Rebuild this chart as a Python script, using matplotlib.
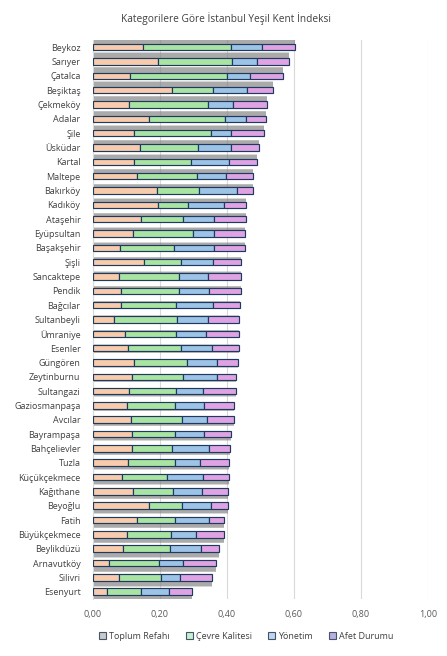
import numpy as np
import matplotlib
matplotlib.use('Agg')
import matplotlib.pyplot as plt
from matplotlib.patches import Patch
from matplotlib.ticker import FuncFormatter

plt.rcParams['font.family'] = ['Open Sans', 'DejaVu Sans']

districts = ['Beykoz', 'Sarıyer', 'Çatalca', 'Beşiktaş', 'Çekmeköy', 'Adalar', 'Şile',
             'Üsküdar', 'Kartal', 'Maltepe', 'Bakırköy', 'Kadıköy', 'Ataşehir',
             'Eyüpsultan', 'Başakşehir', 'Şişli', 'Sancaktepe', 'Pendik', 'Bağcılar',
             'Sultanbeyli', 'Ümraniye', 'Esenler', 'Güngören', 'Zeytinburnu',
             'Sultangazi', 'Gaziosmanpaşa', 'Avcılar', 'Bayrampaşa', 'Bahçelievler',
             'Tuzla', 'Küçükçekmece', 'Kağıthane', 'Beyoğlu', 'Fatih', 'Büyükçekmece',
             'Beylikdüzü', 'Arnavutköy', 'Silivri', 'Esenyurt']

toplum_refahi = [0.149, 0.194, 0.110, 0.236, 0.107, 0.167, 0.123, 0.140, 0.123, 0.132,
                 0.192, 0.195, 0.143, 0.120, 0.081, 0.153, 0.078, 0.084, 0.084, 0.063,
                 0.096, 0.105, 0.123, 0.117, 0.108, 0.102, 0.114, 0.117, 0.117, 0.105,
                 0.087, 0.120, 0.168, 0.132, 0.102, 0.090, 0.048, 0.078, 0.042]
cevre_kalitesi = [0.262, 0.220, 0.290, 0.121, 0.237, 0.228, 0.230, 0.174, 0.170, 0.179,
                  0.125, 0.089, 0.126, 0.179, 0.161, 0.110, 0.179, 0.173, 0.164, 0.188,
                  0.152, 0.158, 0.158, 0.152, 0.140, 0.143, 0.152, 0.128, 0.119, 0.140,
                  0.134, 0.119, 0.098, 0.113, 0.131, 0.140, 0.150, 0.126, 0.102]
yonetim = [0.094, 0.075, 0.069, 0.104, 0.075, 0.063, 0.060, 0.099, 0.113, 0.087,
           0.113, 0.107, 0.093, 0.063, 0.120, 0.096, 0.087, 0.090, 0.111, 0.093,
           0.090, 0.093, 0.090, 0.102, 0.081, 0.087, 0.075, 0.087, 0.111, 0.075,
           0.108, 0.087, 0.087, 0.102, 0.075, 0.093, 0.071, 0.056, 0.083]
afet_durumu = [0.097, 0.097, 0.099, 0.076, 0.101, 0.059, 0.098, 0.083, 0.083, 0.081,
               0.047, 0.067, 0.095, 0.092, 0.092, 0.082, 0.097, 0.094, 0.079, 0.092,
               0.098, 0.080, 0.061, 0.056, 0.098, 0.089, 0.080, 0.080, 0.062, 0.086,
               0.077, 0.077, 0.050, 0.045, 0.084, 0.054, 0.099, 0.096, 0.069]

series = ['Toplum Refahı', 'Çevre Kalitesi', 'Yönetim', 'Afet Durumu']
bar_colors = ['#F8CBAD', '#A9E4A3', '#9DC3E6', '#DFA3E3']
legend_colors = ['#C9C9C9', '#C6EFCE', '#BDD7EE', '#B8AEE0']

values = np.array([toplum_refahi, cevre_kalitesi, yonetim, afet_durumu])
totals = values.sum(axis=0)

fig = plt.figure(figsize=(4.47, 6.56), dpi=100)
ax = fig.add_axes([0.208, 0.087, 0.749, 0.852])

y = np.arange(len(districts))
h = 0.46
mid = (len(districts) - 1) / 2

# perspective-like shadow behind each bar (soft, a few stacked layers)
shadow_y = y + 0.02 * (y - mid)
for s in range(3):
    ax.barh(shadow_y, totals * 1.005, height=h + 0.14 - s * 0.07, left=-0.002,
            color='#7f7f7f', alpha=0.3, linewidth=0, zorder=1)

left = np.zeros(len(districts))
for vals, col in zip(values, bar_colors):
    ax.barh(y, vals, left=left, height=h, color=col, edgecolor='#1F3A5F',
            linewidth=0.85, zorder=3)
    left += vals

ax.set_xlim(0, 1.0)
ax.set_ylim(len(districts) - 0.5, -0.5)
ax.set_xticks(np.arange(0, 1.01, 0.2))
ax.xaxis.set_major_formatter(FuncFormatter(lambda v, p: f'{v:.2f}'.replace('.', ',')))
ax.set_yticks(y)
ax.set_yticklabels(districts)
ax.tick_params(axis='both', length=0, labelsize=6.5, colors='#404040')
ax.tick_params(axis='x', pad=8, colors='#595959')
ax.tick_params(axis='y', pad=9)
ax.grid(axis='x', color='#d9d9d9', linewidth=0.8, zorder=0)
ax.set_axisbelow(True)
for side in ['top', 'right', 'bottom']:
    ax.spines[side].set_visible(False)
ax.spines['left'].set_color('#d9d9d9')

fig.text(0.505, 0.972, 'Kategorilere Göre İstanbul Yeşil Kent İndeksi',
         ha='center', va='center', fontsize=7.3, color='#404040')

handles = [Patch(facecolor=c, edgecolor='#44546A', linewidth=0.8, label=l)
           for c, l in zip(legend_colors, series)]
fig.legend(handles=handles, loc='center', bbox_to_anchor=(0.55, 0.030), ncol=4,
           frameon=False, fontsize=6.5, handlelength=0.8, handleheight=0.8,
           handletextpad=0.3, columnspacing=1.8, labelcolor='#404040')

fig.savefig('out.png', dpi=100)
